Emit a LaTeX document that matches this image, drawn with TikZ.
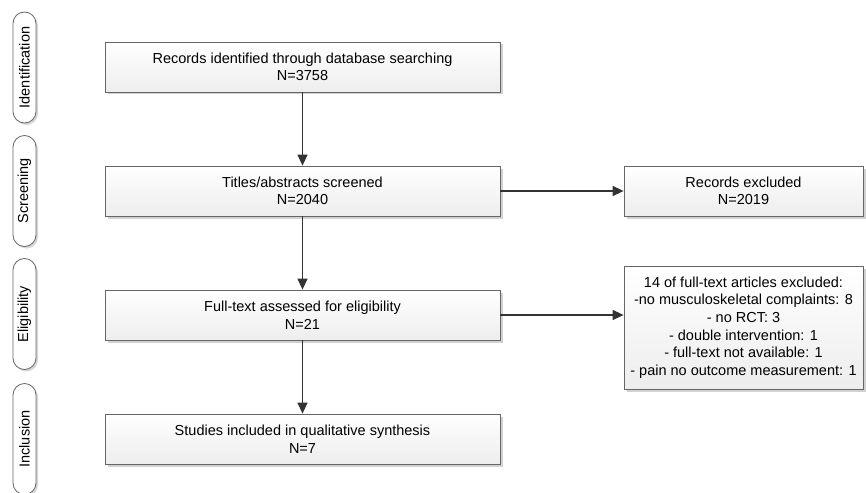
\documentclass[tikz,border=0pt]{standalone}
\usepackage{fontspec}
\setmainfont{Liberation Sans}
\usetikzlibrary{arrows.meta,shadows}

\tikzset{
  stagebox/.style={draw=gray!80!black, line width=0.8pt, top color=white, bottom color=gray!14,
    drop shadow={shadow xshift=2.5pt, shadow yshift=-2.5pt, fill=gray!45, opacity=0.8},
    minimum width=395pt, minimum height=50pt, inner sep=0pt, align=center,
    font=\fontsize{14.5}{17.6}\selectfont},
  sidebox/.style={stagebox, minimum width=239pt},
  phase/.style={draw=gray!80!black, line width=0.8pt, fill=white, rounded corners=11.5pt,
    drop shadow={shadow xshift=2pt, shadow yshift=-2pt, fill=gray!40, opacity=0.8},
    rotate=90, minimum width=111pt, minimum height=23pt, inner sep=0pt,
    font=\fontsize{14.5}{17.6}\selectfont},
  flow/.style={draw=black!80, line width=1.4pt, -{Triangle[length=11pt,width=10pt]}}
}

\begin{document}
\begin{tikzpicture}[x=1pt,y=-1pt]
  \useasboundingbox (0,0) rectangle (866,492);
  % phase labels
  \node[phase] (ident) at (24.5,67.5) {Identification};
  \node[phase] (screen) at (24.5,191) {Screening};
  \node[phase] (elig) at (24.5,314) {Eligibility};
  \node[phase] (incl) at (24.5,439) {Inclusion};
  % main column
  \node[stagebox] (records) at (302.5,67) {Records identified through database searching\\N=3758};
  \node[stagebox] (screened) at (302.5,191) {Titles/abstracts screened\\N=2040};
  \node[stagebox] (fulltext) at (302.5,315) {Full-text assessed for eligibility\\N=21};
  \node[stagebox] (included) at (302.5,439) {Studies included in qualitative synthesis\\N=7};
  % exclusions
  \node[sidebox] (excluded) at (743.5,191) {Records excluded\\N=2019};
  \node[sidebox, minimum height=123pt] (reasons) at (743.5,327.5) {14 of full-text articles excluded:\\-no musculoskeletal complaints: 8\\- no RCT: 3\\- double intervention: 1\\- full-text not available: 1\\- pain no outcome measurement: 1};
  \draw[flow] (records) -- (screened);
  \draw[flow] (screened) -- (fulltext);
  \draw[flow] (fulltext) -- (included);
  \draw[flow] (screened) -- (excluded);
  \draw[flow] (fulltext.east) -- (fulltext.east -| reasons.west);
\end{tikzpicture}
\end{document}
